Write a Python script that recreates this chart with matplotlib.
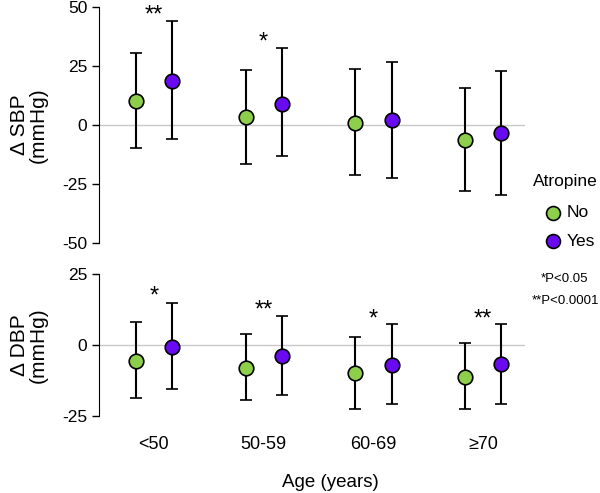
import numpy as np
import matplotlib.pyplot as plt

plt.rcParams['font.family'] = ['Liberation Sans', 'DejaVu Sans']
plt.rcParams['axes.unicode_minus'] = False

age_groups = ['<50', '50-59', '60-69', '≥70']

# Δ SBP (mmHg): mean, upper and lower whisker
sbp_no = [10.2, 3.4, 0.8, -6.4]
sbp_no_hi = [30.5, 23.3, 23.5, 15.5]
sbp_no_lo = [-9.7, -16.5, -21.2, -28.0]
sbp_yes = [18.6, 8.9, 2.1, -3.4]
sbp_yes_hi = [44.0, 32.6, 26.7, 22.9]
sbp_yes_lo = [-6.0, -13.0, -22.5, -29.7]
sbp_stars = ['**', '*', '', '']
sbp_star_y = [46.5, 35.0, 0, 0]

# Δ DBP (mmHg)
dbp_no = [-5.5, -8.0, -10.0, -11.4]
dbp_no_hi = [8.1, 4.0, 2.9, 0.6]
dbp_no_lo = [-18.8, -19.5, -22.6, -22.6]
dbp_yes = [-0.6, -3.9, -7.0, -6.7]
dbp_yes_hi = [14.9, 10.3, 7.3, 7.3]
dbp_yes_lo = [-15.5, -17.6, -20.9, -20.8]
dbp_stars = ['*', '**', '*', '**']
dbp_star_y = [17.0, 12.0, 9.0, 9.0]

green = '#8dce4a'
purple = '#6a0af0'
offset = 0.165


def draw_panel(ax, no, no_hi, no_lo, yes, yes_hi, yes_lo, stars, star_y):
    x = np.arange(len(age_groups))
    ax.axhline(0, color='#c8c8c8', linewidth=1, zorder=0)
    for xs, m, hi, lo, col in [(x - offset, no, no_hi, no_lo, green),
                               (x + offset, yes, yes_hi, yes_lo, purple)]:
        m = np.array(m)
        err = [m - np.array(lo), np.array(hi) - m]
        ax.errorbar(xs, m, yerr=err, fmt='o', color='black', ecolor='black',
                    elinewidth=1.5, capsize=4.5, capthick=1.5,
                    markersize=10.5, markerfacecolor=col,
                    markeredgecolor='black', markeredgewidth=1.2, zorder=3)
    for xi, s, sy in zip(x, stars, star_y):
        if s:
            ax.text(xi, sy, s, ha='center', va='center', fontsize=17)
    ax.set_xlim(-0.5, 3.38)
    for side in ['top', 'right', 'bottom']:
        ax.spines[side].set_visible(False)
    ax.tick_params(axis='y', labelsize=12.5, length=5, width=1)
    ax.tick_params(axis='x', length=0)


fig = plt.figure(figsize=(6, 4.93), dpi=100)
ax1 = fig.add_axes([0.165, 0.507, 0.71, 0.479])
ax2 = fig.add_axes([0.165, 0.156, 0.71, 0.288])

draw_panel(ax1, sbp_no, sbp_no_hi, sbp_no_lo, sbp_yes, sbp_yes_hi, sbp_yes_lo,
           sbp_stars, sbp_star_y)
ax1.set_ylim(-50, 50)
ax1.set_yticks([-50, -25, 0, 25, 50])
ax1.set_xticks([])
ax1.set_ylabel('Δ SBP\n(mmHg)', fontsize=15, labelpad=10, linespacing=1.0)

draw_panel(ax2, dbp_no, dbp_no_hi, dbp_no_lo, dbp_yes, dbp_yes_hi, dbp_yes_lo,
           dbp_stars, dbp_star_y)
ax2.set_ylim(-25, 25)
ax2.set_yticks([-25, 0, 25])
ax2.set_xticks(np.arange(len(age_groups)))
ax2.set_xticklabels(age_groups, fontsize=13)
ax2.tick_params(axis='x', pad=14)
ax2.set_ylabel('Δ DBP\n(mmHg)', fontsize=15, labelpad=10, linespacing=1.0)
fig.text(0.55, 0.022, 'Age (years)', ha='center', va='center', fontsize=13.5)

# legend
fig.text(0.942, 0.631, 'Atropine', ha='center', va='center', fontsize=12.5)
for yy, col, lab in [(0.568, green, 'No'), (0.511, purple, 'Yes')]:
    fig.lines.append(plt.Line2D([0.922], [yy], marker='o', markersize=10,
                                markerfacecolor=col, markeredgecolor='black',
                                markeredgewidth=1.2, transform=fig.transFigure))
    fig.text(0.944, yy, lab, ha='left', va='center', fontsize=12.5)
fig.text(0.98, 0.434, '*P<0.05', ha='right', va='center', fontsize=9.5)
fig.text(0.998, 0.389, '**P<0.0001', ha='right', va='center', fontsize=9.5)

fig.savefig('out.png', dpi=100)
